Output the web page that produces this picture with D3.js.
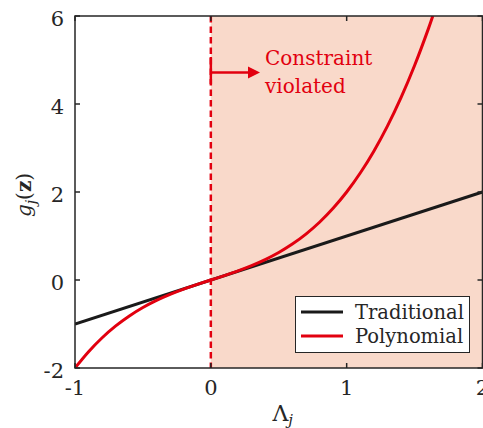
<!DOCTYPE html>
<html>
<head>
<meta charset="utf-8">
<script src="https://cdn.jsdelivr.net/npm/d3@7"></script>
<style>
  html, body { margin: 0; padding: 0; background: #fff; }
  svg { display: block; }
</style>
</head>
<body>
<svg id="chart" width="483" height="428"></svg>
<script>
// Axis extents and ticks
const xDomain = [-1, 2];
const yDomain = [-2, 6];
const xTicks = [-1, 0, 1, 2];
const yTicks = [-2, 0, 2, 4, 6];
const xTickLabels = ["-1", "0", "1", "2"];
const yTickLabels = ["-2", "0", "2", "4", "6"];

// Traditional (linear) penalty
const tradX = [-1, 2];
const tradY = [-1, 2];

// Polynomial penalty
const polyX = [-1, -0.9, -0.8, -0.7, -0.6, -0.5, -0.4, -0.3, -0.2, -0.1, 0,
               0.1, 0.2, 0.3, 0.4, 0.5, 0.6, 0.7, 0.8, 0.9, 1.0,
               1.1, 1.2, 1.3, 1.4, 1.5, 1.6, 1.634];
const polyY = [-2, -1.629, -1.312, -1.043, -0.816, -0.625, -0.464, -0.327, -0.208, -0.101, 0,
               0.101, 0.208, 0.327, 0.464, 0.625, 0.816, 1.043, 1.312, 1.629, 2.0,
               2.431, 2.928, 3.497, 4.144, 4.875, 5.696, 6.0];

// Constraint boundary and the violated region
const boundaryX = 0;
const violatedRange = [0, 2];

const seriesNames = ["Traditional", "Polynomial"];
const RED = "#e2000f";
const BLACK = "#1a1a1a";
const AXIS = "#262626";
const FILL = "#f9d9ca";
const FONT = "'DejaVu Serif', 'Liberation Serif', 'Noto Serif', serif";

const svg = d3.select("#chart").attr("font-family", FONT);
const plot = { left: 75, right: 482.5, top: 16, bottom: 368 };

const x = d3.scaleLinear().domain(xDomain).range([plot.left, plot.right]);
const y = d3.scaleLinear().domain(yDomain).range([plot.bottom, plot.top]);

svg.append("defs").append("clipPath").attr("id", "clip")
  .append("rect")
  .attr("x", plot.left).attr("y", plot.top)
  .attr("width", plot.right - plot.left).attr("height", plot.bottom - plot.top);

// Shaded region where the constraint is violated
svg.append("rect")
  .attr("x", x(violatedRange[0]))
  .attr("y", plot.top)
  .attr("width", x(violatedRange[1]) - x(violatedRange[0]))
  .attr("height", plot.bottom - plot.top)
  .attr("fill", FILL);

const g = svg.append("g").attr("clip-path", "url(#clip)");

const line = d3.line().x(d => x(d[0])).y(d => y(d[1]));

// Traditional line
g.append("path")
  .datum(d3.zip(tradX, tradY))
  .attr("d", line)
  .attr("fill", "none")
  .attr("stroke", BLACK)
  .attr("stroke-width", 3);

// Polynomial curve
g.append("path")
  .datum(d3.zip(polyX, polyY))
  .attr("d", line.curve(d3.curveCatmullRom))
  .attr("fill", "none")
  .attr("stroke", RED)
  .attr("stroke-width", 3);

// Dashed constraint boundary
svg.append("line")
  .attr("x1", x(boundaryX)).attr("x2", x(boundaryX))
  .attr("y1", plot.top).attr("y2", plot.bottom)
  .attr("stroke", RED)
  .attr("stroke-width", 2.5)
  .attr("stroke-dasharray", "6.5,4");

// Axes box with inward ticks on all sides
const tickLen = 5;
const axisG = svg.append("g");
axisG.append("rect")
  .attr("x", plot.left).attr("y", plot.top)
  .attr("width", plot.right - plot.left).attr("height", plot.bottom - plot.top)
  .attr("fill", "none").attr("stroke", AXIS).attr("stroke-width", 1.5);

xTicks.forEach(t => {
  axisG.append("line").attr("x1", x(t)).attr("x2", x(t))
    .attr("y1", plot.bottom).attr("y2", plot.bottom - tickLen)
    .attr("stroke", AXIS).attr("stroke-width", 1.5);
  axisG.append("line").attr("x1", x(t)).attr("x2", x(t))
    .attr("y1", plot.top).attr("y2", plot.top + tickLen)
    .attr("stroke", AXIS).attr("stroke-width", 1.5);
});
yTicks.forEach(t => {
  axisG.append("line").attr("x1", plot.left).attr("x2", plot.left + tickLen)
    .attr("y1", y(t)).attr("y2", y(t))
    .attr("stroke", AXIS).attr("stroke-width", 1.5);
  axisG.append("line").attr("x1", plot.right).attr("x2", plot.right - tickLen)
    .attr("y1", y(t)).attr("y2", y(t))
    .attr("stroke", AXIS).attr("stroke-width", 1.5);
});

// Tick labels
xTicks.forEach((t, i) => {
  svg.append("text")
    .attr("x", x(t)).attr("y", plot.bottom + 27)
    .attr("text-anchor", "middle")
    .attr("font-size", 21)
    .attr("fill", AXIS)
    .text(xTickLabels[i]);
});
yTicks.forEach((t, i) => {
  svg.append("text")
    .attr("x", plot.left - 11).attr("y", y(t) + 10)
    .attr("text-anchor", "end")
    .attr("font-size", 21)
    .attr("fill", AXIS)
    .text(yTickLabels[i]);
});

// Axis titles
const xl = svg.append("text")
  .attr("x", (plot.left + plot.right) / 2 + 4).attr("y", 421)
  .attr("text-anchor", "middle")
  .attr("font-size", 22)
  .attr("fill", AXIS);
xl.append("tspan").text("Λ");
xl.append("tspan").attr("font-style", "italic").attr("font-size", 15).attr("dy", 4).text("j");

const yl = svg.append("text")
  .attr("transform", `translate(31,${(plot.top + plot.bottom) / 2 + 3}) rotate(-90)`)
  .attr("text-anchor", "middle")
  .attr("font-size", 20)
  .attr("fill", AXIS);
yl.append("tspan").attr("font-style", "italic").text("g");
yl.append("tspan").attr("font-style", "italic").attr("font-size", 14).attr("dy", 5).text("j");
yl.append("tspan").attr("dy", -5).text("(");
yl.append("tspan").attr("font-weight", "bold").text("z");
yl.append("tspan").text(")");

// Annotation: arrow pointing into the violated region
const ax = x(boundaryX);
svg.append("line")
  .attr("x1", ax).attr("x2", ax).attr("y1", 57).attr("y2", 84)
  .attr("stroke", RED).attr("stroke-width", 2.5);
svg.append("line")
  .attr("x1", ax).attr("x2", 250).attr("y1", 72.5).attr("y2", 72.5)
  .attr("stroke", RED).attr("stroke-width", 2.5);
svg.append("path")
  .attr("d", `M248,66.5 L260,72.5 L248,78.5 Z`)
  .attr("fill", RED);

svg.append("text")
  .attr("x", 265).attr("y", 65)
  .attr("font-size", 20)
  .attr("fill", RED)
  .text("Constraint");
svg.append("text")
  .attr("x", 265).attr("y", 93)
  .attr("font-size", 20)
  .attr("fill", RED)
  .text("violated");

// Legend
const legend = svg.append("g");
legend.append("rect")
  .attr("x", 295.5).attr("y", 296.5)
  .attr("width", 174).attr("height", 56)
  .attr("fill", "#fff")
  .attr("stroke", AXIS).attr("stroke-width", 1);
const legendColors = [BLACK, RED];
const legendY = [312, 336];
seriesNames.forEach((name, i) => {
  legend.append("line")
    .attr("x1", 301).attr("x2", 343)
    .attr("y1", legendY[i]).attr("y2", legendY[i])
    .attr("stroke", legendColors[i]).attr("stroke-width", 3);
  legend.append("text")
    .attr("x", 355).attr("y", legendY[i] + 7)
    .attr("font-size", 19.5)
    .attr("fill", AXIS)
    .text(name);
});
</script>
</body>
</html>
